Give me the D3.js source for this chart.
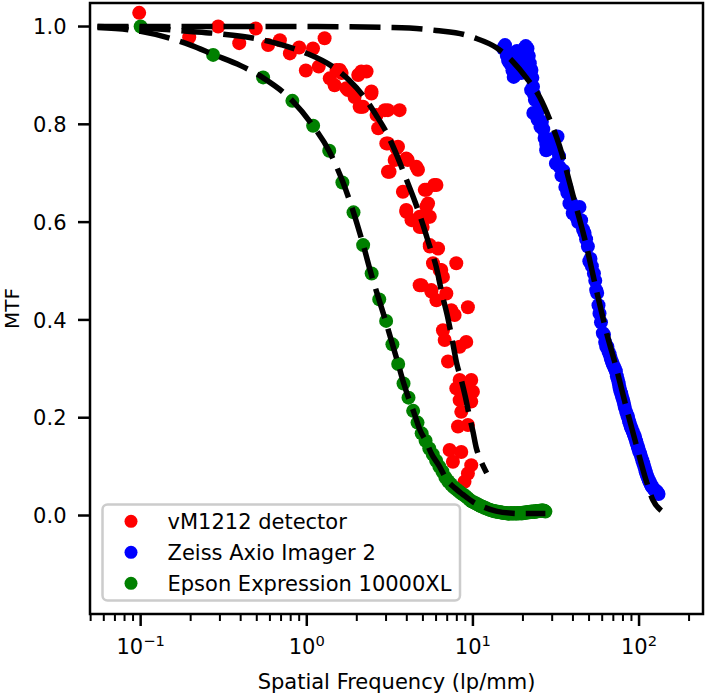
<!DOCTYPE html>
<html><head><meta charset="utf-8">
<script src="https://cdn.jsdelivr.net/npm/d3@7/dist/d3.min.js"></script>
<style>
body{margin:0;background:#fff}
svg{display:block}
text{font-family:"DejaVu Sans",sans-serif;fill:#000}
</style>
</head><body>
<svg id="chart" width="709" height="694"></svg>
<script>
// ---------------- DATA ----------------
const seriesNames = ["vM1212 detector", "Zeiss Axio Imager 2", "Epson Expression 10000XL"];
const seriesColors = ["#ff0000", "#0000ff", "#008000"];
const yTickValues = [0.0, 0.2, 0.4, 0.6, 0.8, 1.0];
const xTickExponents = [-1, 0, 1, 2];
const xLabel = "Spatial Frequency (lp/mm)";
const yLabel = "MTF";

// vM1212 detector measured points [lp/mm, MTF]
const redPoints = [
 [0.098,1.028],[0.196,0.978],[0.293,1.0],[0.392,0.966],[0.493,0.996],[0.585,0.962],[0.689,0.972],
 [0.791,0.945],[0.9,0.957],[0.987,0.91],[1.09,0.955],[1.18,0.918],[1.28,0.976],[1.375,0.894],
 [1.47,0.88],[1.51,0.911],[1.58,0.911],[1.62,0.905],[1.73,0.874],[1.77,0.87],[1.9,0.868],[1.94,0.856],
 [2.04,0.901],[2.08,0.836],[2.13,0.908],[2.13,0.836],[2.18,0.836],[2.29,0.908],[2.45,0.867],[2.45,0.863],
 [2.63,0.819],[2.69,0.792],[2.95,0.829],[3.08,0.829],[3.62,0.829],[3.01,0.761],[3.08,0.761],
 [3.46,0.751],[3.54,0.754],[3.38,0.727],[3.08,0.703],[3.15,0.703],[3.97,0.73],[4.05,0.727],
 [4.57,0.713],[4.67,0.707],[3.79,0.662],[5.13,0.666],[5.25,0.666],[5.85,0.676],[6.03,0.676],
 [3.97,0.625],[3.97,0.621],[5.25,0.632],[5.37,0.638],[4.27,0.604],[4.78,0.611],[5.37,0.611],[5.5,0.611],
 [4.78,0.59],[4.98,0.59],[5.5,0.553],[5.5,0.55],[6.17,0.546],[5.75,0.516],[7.94,0.516],[6.31,0.502],
 [6.45,0.502],[6.6,0.488],[4.9,0.471],[4.78,0.471],[5.62,0.458],[5.62,0.461],[6.92,0.454],[6.03,0.44],
 [7.41,0.42],[9.33,0.426],[7.76,0.41],[6.6,0.379],[6.76,0.359],[9.12,0.355],[8.32,0.345],[7.08,0.315],
 [8.32,0.277],[9.77,0.277],[7.94,0.26],[8.9,0.257],[10.0,0.253],[8.32,0.236],[9.77,0.233],[8.51,0.212],
 [8.13,0.182],[9.33,0.185],[7.24,0.134],[8.51,0.13],[7.58,0.11],[9.77,0.103],[9.33,0.086],[8.9,0.069]
];

// Zeiss Axio Imager 2 measured points
const bluePoints = [
 [15.2,0.955],[15.6,0.962],[16.0,0.94],[16.3,0.93],[16.7,0.925],[17.0,0.945],[17.3,0.91],[17.6,0.897],
 [18.0,0.935],[18.4,0.95],[18.8,0.92],[19.1,0.945],[19.5,0.905],[20.0,0.93],[20.4,0.955],[20.8,0.96],
 [21.3,0.955],[21.7,0.94],[22.0,0.925],[22.5,0.911],[22.8,0.895],[23.0,0.877],[23.3,0.862],[23.6,0.85],
 [22.4,0.87],[23.1,0.823],[24.0,0.823],[24.5,0.81],[25.0,0.83],[25.5,0.795],[26.0,0.805],[26.5,0.79],
 [27.0,0.772],[27.6,0.76],[27.6,0.747],[28.3,0.768],[29.0,0.755],[30.0,0.77],[30.1,0.768],[31.0,0.75],
 [31.6,0.72],[32.3,0.775],[33.0,0.735],[33.2,0.713],[34.1,0.695],[35.0,0.705],[36.0,0.672],[36.5,0.672],
 [37.0,0.66],[38.1,0.638],[39.0,0.64],[39.9,0.618],[41.0,0.625],[42.0,0.61],
 [43.0,0.6],[43.8,0.631],[44.8,0.604],[46.0,0.585],[47.0,0.578],[48.0,0.565],[49.2,0.55],[50.2,0.52],
 [51.0,0.525],[52.0,0.51],[53.5,0.495],[54.5,0.48],[55.2,0.461],[56.0,0.455],[57.0,0.43],[57.8,0.413],
 [59.0,0.395],[60.5,0.373],[61.5,0.37],[62.5,0.355],[63.4,0.345],[64.5,0.345],[65.5,0.335],[66.5,0.33],
 [67.5,0.322],[68.5,0.315],[69.5,0.31],[70.5,0.305],[71.5,0.3],[72.5,0.295],[73.5,0.285],[74.5,0.278],
 [75.5,0.27],[76.2,0.262],[77.0,0.255],[78.0,0.25],[79.0,0.243],[80.0,0.237],[81.0,0.23],[82.0,0.222],
 [83.6,0.212],[85.0,0.205],[86.0,0.2],[87.0,0.193],[88.0,0.188],[89.0,0.182],[90.0,0.178],[91.6,0.172],
 [93.0,0.166],[94.0,0.162],[95.0,0.157],[96.0,0.152],[97.0,0.147],[98.0,0.142],[99.0,0.137],[100.0,0.132],
 [101.5,0.127],[103.0,0.12],[104.5,0.113],[106.0,0.107],[107.5,0.1],[109.0,0.093],[110.0,0.088],
 [111.5,0.082],[113.0,0.077],[114.5,0.072],[116.0,0.068],[117.5,0.064],[119.0,0.06],[120.5,0.058],
 [122.0,0.055],[123.5,0.053],[125.0,0.051],[127.0,0.05],[129.0,0.047],[131.0,0.044]
];

// Epson Expression 10000XL measured points
const greenPoints = [
 [0.1,1.0],[0.273,0.942],[0.546,0.896],[0.819,0.848],[1.092,0.797],[1.365,0.746],[1.638,0.681],
 [1.911,0.62],[2.184,0.553],[2.457,0.495],[2.73,0.442],[3.003,0.398],[3.276,0.35],[3.549,0.31],
 [3.822,0.27],[4.095,0.241],[4.368,0.214],[4.641,0.19],[4.914,0.168],[5.187,0.153],[5.46,0.137],
 [5.733,0.125],[6.006,0.112],[6.279,0.1],[6.552,0.09],[6.825,0.078],[7.098,0.07],[7.371,0.064],
 [7.644,0.058],[7.917,0.054],[8.19,0.05],[8.463,0.046],[8.736,0.043],[9.009,0.04],[9.282,0.036],
 [9.555,0.032],[9.828,0.029],[10.101,0.027],[10.374,0.025],[10.647,0.023],[10.92,0.021],[11.193,0.019],
 [11.466,0.018],[11.739,0.016],[12.012,0.015],[12.285,0.013],[12.558,0.012],[12.831,0.011],[13.104,0.01],
 [13.377,0.009],[13.65,0.008],[13.923,0.008],[14.196,0.007],[14.469,0.007],[14.742,0.006],[15.015,0.006],
 [15.288,0.005],[15.561,0.005],[15.834,0.005],[16.107,0.004],[16.38,0.004],[16.653,0.004],[16.926,0.005],
 [17.199,0.004],[17.472,0.004],[17.745,0.005],[18.018,0.004],[18.291,0.004],[18.564,0.005],[18.837,0.004],
 [19.11,0.005],[19.383,0.005],[19.656,0.004],[19.929,0.005],[20.202,0.006],[20.475,0.005],[20.748,0.006],
 [21.021,0.006],[21.294,0.007],[21.567,0.006],[21.84,0.007],[22.113,0.007],[22.386,0.008],[22.659,0.007],
 [22.932,0.008],[23.205,0.008],[23.478,0.007],[23.751,0.008],[24.024,0.009],[24.297,0.008],[24.57,0.009],
 [24.843,0.009],[25.116,0.01],[25.389,0.009],[25.662,0.01],[25.935,0.01],[26.208,0.011],[26.481,0.01],
 [26.754,0.009],[27.027,0.009],[27.3,0.008]
];

// fitted curves
const redFit = [
 [0.055,1.0],[0.1,0.997],[0.2,0.99],[0.3,0.985],[0.5,0.975],[0.7,0.963],[1.0,0.945],[1.4,0.92],
 [1.8,0.89],[2.2,0.857],[2.6,0.82],[3.0,0.785],[3.5,0.735],[4.0,0.685],[4.5,0.64],[5.0,0.595],
 [5.5,0.55],[6.0,0.51],[6.5,0.455],[7.0,0.41],[7.5,0.36],[8.0,0.31],[8.5,0.278],[9.0,0.243],
 [9.5,0.205],[10.0,0.172],[10.5,0.137],[11.0,0.117],[11.5,0.102],[12.1,0.087]
];
const blueFit = [
 [0.055,1.0],[1.0,1.0],[3.3,0.998],[5.0,0.995],[6.0,0.992],[9.0,0.983],[10.2,0.977],[13.8,0.957],
 [17.4,0.928],[21.0,0.895],[25.2,0.856],[29.0,0.81],[33.2,0.756],[40.0,0.655],[47.8,0.557],
 [55.2,0.463],[63.4,0.377],[72.9,0.302],[83.6,0.222],[95.6,0.148],[110,0.073],[121,0.032],[136,0.01]
];
const greenFit = [
 [0.055,0.998],[0.1,0.99],[0.2,0.962],[0.273,0.943],[0.4,0.92],[0.546,0.895],[0.82,0.848],
 [1.09,0.797],[1.365,0.745],[1.64,0.684],[1.91,0.62],[2.18,0.555],[2.46,0.49],[2.73,0.44],
 [3.0,0.395],[3.28,0.35],[3.55,0.31],[3.82,0.272],[4.1,0.24],[4.4,0.212],[4.8,0.175],[5.25,0.15],
 [5.6,0.128],[6.3,0.1],[6.9,0.075],[7.8,0.056],[8.7,0.043],[10.0,0.028],[11.5,0.018],[13.8,0.009],
 [16.6,0.005],[20.0,0.004],[24.0,0.004],[27.3,0.004]
];

// ---------------- LAYOUT ----------------
const W = 709, H = 694;
const plot = {left: 90, right: 703, top: 3, bottom: 614};
const FS = 21;

const x = d3.scaleLog().domain([0.04956, 242.6]).range([plot.left, plot.right]);
const y = d3.scaleLinear().domain([-0.2014, 1.0481]).range([plot.bottom, plot.top]);

const svg = d3.select("#chart");
svg.append("rect").attr("width", W).attr("height", H).attr("fill", "#fff");

svg.append("defs").append("clipPath").attr("id", "clip")
  .append("rect").attr("x", plot.left).attr("y", plot.top)
  .attr("width", plot.right - plot.left).attr("height", plot.bottom - plot.top);

const g = svg.append("g").attr("clip-path", "url(#clip)");

const allPoints = [redPoints, bluePoints, greenPoints];
allPoints.forEach((pts, i) => {
  g.append("g").selectAll("circle").data(pts).join("circle")
    .attr("cx", d => x(d[0])).attr("cy", d => y(d[1])).attr("r", 7)
    .attr("fill", seriesColors[i]);
});

const line = d3.line().x(d => x(d[0])).y(d => y(d[1])).curve(d3.curveMonotoneX);
[redFit, blueFit, greenFit].forEach(fit => {
  g.append("path").datum(fit).attr("d", line)
    .attr("fill", "none").attr("stroke", "#000").attr("stroke-width", 5.5)
    .attr("stroke-dasharray", "31 11");
});

// ---------------- AXES ----------------
const axisG = svg.append("g");
axisG.append("rect").attr("x", plot.left).attr("y", plot.top)
  .attr("width", plot.right - plot.left).attr("height", plot.bottom - plot.top)
  .attr("fill", "none").attr("stroke", "#000").attr("stroke-width", 2.5);

yTickValues.forEach(v => {
  const yy = y(v);
  axisG.append("line").attr("x1", plot.left - 12).attr("x2", plot.left)
    .attr("y1", yy).attr("y2", yy).attr("stroke", "#000").attr("stroke-width", 2.5);
  axisG.append("text").attr("x", plot.left - 23.5).attr("y", yy + 7.6)
    .attr("text-anchor", "end").attr("font-size", FS).text(d3.format(".1f")(v));
});

const supMap = {"-1": "\u22121", "0": "0", "1": "1", "2": "2"};
xTickExponents.forEach(e => {
  const xx = x(Math.pow(10, e));
  axisG.append("line").attr("x1", xx).attr("x2", xx)
    .attr("y1", plot.bottom).attr("y2", plot.bottom + 12)
    .attr("stroke", "#000").attr("stroke-width", 2.5);
  const t = axisG.append("text").attr("x", xx).attr("y", 653.6)
    .attr("text-anchor", "middle").attr("font-size", FS);
  t.append("tspan").text("10");
  t.append("tspan").attr("font-size", FS * 0.7).attr("dy", -8).text(supMap[String(e)]);
});

const [d0, d1] = x.domain();
for (let e = -2; e <= 2; e++) {
  for (let m = 2; m <= 9; m++) {
    const v = m * Math.pow(10, e);
    if (v < d0 || v > d1) continue;
    const xx = x(v);
    axisG.append("line").attr("x1", xx).attr("x2", xx)
      .attr("y1", plot.bottom).attr("y2", plot.bottom + 7)
      .attr("stroke", "#000").attr("stroke-width", 2);
  }
}

svg.append("text").attr("x", (plot.left + plot.right) / 2).attr("y", 688.5)
  .attr("text-anchor", "middle").attr("font-size", FS).text(xLabel);
svg.append("text").attr("transform", `translate(19,${(plot.top + plot.bottom) / 2}) rotate(-90)`)
  .attr("text-anchor", "middle").attr("font-size", FS - 1).text(yLabel);

// ---------------- LEGEND ----------------
const leg = svg.append("g");
leg.append("rect").attr("x", 102.5).attr("y", 504.5).attr("width", 357.5).attr("height", 96)
  .attr("rx", 5).attr("fill", "#fff").attr("fill-opacity", 0.8)
  .attr("stroke", "#cccccc").attr("stroke-width", 2.5);
seriesNames.forEach((name, i) => {
  const base = 528.5 + i * 31;
  leg.append("circle").attr("cx", 131).attr("cy", base - 7.2).attr("r", 6.5)
    .attr("fill", seriesColors[i]);
  leg.append("text").attr("x", 167.5).attr("y", base).attr("font-size", FS).text(name);
});
</script>
</body></html>
